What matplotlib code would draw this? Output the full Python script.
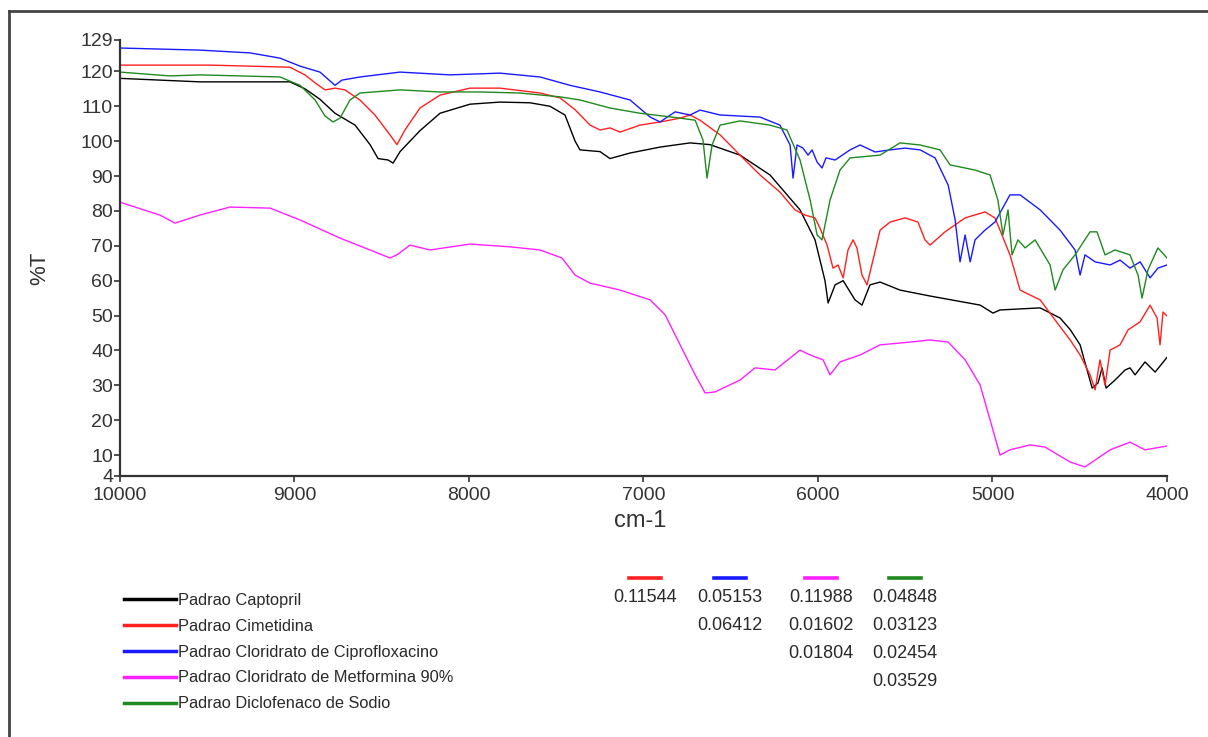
import matplotlib
matplotlib.use('Agg')
from matplotlib import pyplot as plt
from matplotlib.lines import Line2D

plt.rcParams['font.family'] = ['Liberation Sans', 'DejaVu Sans']

# NIR spectra: wavenumber (cm-1) and %T
captopril_wn = [10000, 9542, 9026, 8940, 8854, 8768, 8653, 8567, 8521, 8464, 8435, 8395, 8281,
                8166, 7994, 7822, 7650, 7536, 7450, 7392, 7364, 7249, 7192, 7077, 6905, 6733,
                6619, 6447, 6275, 6103, 6017, 5960, 5942, 5902, 5856, 5788, 5748, 5702, 5644,
                5530, 5358, 5071, 4997, 4957, 4727, 4613, 4555, 4498, 4458, 4429, 4395, 4372,
                4349, 4298, 4240, 4212, 4183, 4126, 4068, 4000]
captopril_t = [118, 117, 117, 115, 112, 108, 104.6, 99, 95, 94.6, 93.7, 97, 103,
               108, 110.6, 111.2, 111, 110, 107.5, 100, 97.5, 97, 95, 96.6, 98.3, 99.5,
               99, 96, 90.3, 80.3, 71.7, 60, 53.6, 58.8, 60, 54.5, 53, 58.8, 59.6,
               57.3, 55.6, 53, 50.7, 51.6, 52.2, 49.3, 46, 41.6, 34.4, 29.2, 30.7, 35,
               29.2, 31.5, 34.4, 35, 33, 36.7, 33.8, 38]

cimetidina_wn = [10000, 9484, 9026, 8940, 8882, 8825, 8768, 8711, 8625, 8539, 8453, 8413, 8367,
                 8281, 8166, 7994, 7822, 7593, 7478, 7392, 7306, 7249, 7192, 7134, 7020, 6905,
                 6790, 6733, 6676, 6561, 6447, 6332, 6218, 6132, 6074, 6017, 5988, 5948, 5914,
                 5885, 5856, 5828, 5799, 5777, 5748, 5719, 5685, 5644, 5587, 5501, 5427, 5387,
                 5358, 5272, 5157, 5043, 4986, 4957, 4900, 4842, 4785, 4727, 4641, 4555, 4498,
                 4441, 4412, 4384, 4355, 4326, 4269, 4223, 4154, 4097, 4057, 4040, 4023, 4000]
cimetidina_t = [121.8, 121.8, 121.2, 119, 116.7, 114.7, 115.2, 114.7, 111.8, 107.5, 101.8, 99, 103.2,
                109.5, 113.2, 115.2, 115.2, 113.8, 112.4, 109, 104.6, 103.2, 103.8, 102.6, 104.6, 105.5,
                106.6, 107.5, 106, 101.8, 96, 90.3, 85.4, 80.3, 78.8, 78, 75, 70.2, 63.6,
                64.5, 60.8, 68.8, 71.7, 69.4, 61.6, 58.8, 65.9, 74.5, 76.8, 78, 76.8, 71.7,
                70.2, 74, 78, 79.7, 78, 74.5, 67.4, 57.3, 55.9, 54.5, 48.7, 43, 38.7,
                33, 28.7, 37.3, 30, 40.1, 41.6, 45.9, 48.2, 53, 49.3, 41.6, 51, 49.9]

cipro_wn = [10000, 9542, 9255, 9083, 8968, 8854, 8768, 8728, 8625, 8395, 8109, 7822, 7593,
            7421, 7249, 7077, 6962, 6905, 6819, 6733, 6676, 6561, 6332, 6218, 6160, 6143,
            6120, 6086, 6057, 6034, 6005, 5977, 5954, 5902, 5816, 5759, 5673, 5587, 5501,
            5415, 5329, 5254, 5214, 5186, 5157, 5128, 5100, 5043, 4986, 4900, 4842, 4727,
            4613, 4527, 4498, 4470, 4412, 4326, 4269, 4212, 4154, 4097, 4052, 4000]
cipro_t = [126.7, 126.1, 125.3, 123.8, 121.5, 119.8, 116, 117.5, 118.4, 119.8, 119, 119.5, 118.4,
           116, 114.1, 111.8, 106.9, 105.5, 108.4, 107.5, 108.9, 107.5, 106.9, 104.6, 98.9, 89.4,
           98.9, 98, 96, 97.5, 94, 92.3, 95.2, 94.6, 97.5, 98.9, 96.9, 97.5, 98,
           97.5, 95.2, 87.4, 77.4, 65.4, 73.1, 65.4, 71.7, 74.5, 76.8, 84.6, 84.6, 80.3,
           74.5, 68.8, 61.6, 67.4, 65.4, 64.5, 65.9, 63.6, 65.4, 60.8, 63.6, 64.5]

metformina_wn = [10000, 9771, 9685, 9542, 9370, 9140, 8968, 8739, 8567, 8453, 8413, 8338, 8223,
                 7994, 7765, 7593, 7467, 7392, 7306, 7134, 6962, 6876, 6790, 6704, 6647, 6590,
                 6447, 6361, 6246, 6103, 6045, 5971, 5931, 5874, 5759, 5644, 5472, 5358, 5254,
                 5157, 5071, 5014, 4957, 4900, 4785, 4699, 4555, 4470, 4326, 4212, 4126, 4000]
metformina_t = [82.5, 78.8, 76.5, 78.8, 81.1, 80.8, 77.4, 72.2, 68.8, 66.5, 67.4, 70.2, 68.8,
                70.5, 69.7, 68.8, 66.5, 61.6, 59.3, 57.3, 54.5, 50.2, 41.6, 33, 27.8, 28.1,
                31.5, 35, 34.4, 40.1, 38.7, 37.3, 33, 36.7, 38.7, 41.6, 42.4, 43, 42.4,
                37.3, 30.1, 20.1, 10, 11.5, 12.9, 12.3, 8, 6.6, 11.5, 13.7, 11.5, 12.6]

diclofenaco_wn = [10000, 9713, 9542, 9083, 8968, 8882, 8825, 8779, 8739, 8682, 8625, 8395, 8166,
                  7937, 7708, 7478, 7364, 7192, 7020, 6790, 6704, 6659, 6636, 6607, 6561, 6447,
                  6275, 6178, 6103, 6045, 6005, 5977, 5931, 5874, 5816, 5644, 5530, 5415, 5301,
                  5243, 5100, 5014, 4969, 4940, 4911, 4888, 4854, 4813, 4756, 4670, 4641, 4596,
                  4527, 4441, 4401, 4355, 4298, 4212, 4166, 4143, 4109, 4052, 4000]
diclofenaco_t = [119.8, 118.7, 119, 118.4, 116, 111.8, 107.2, 105.5, 106.6, 111.8, 113.8, 114.7, 114.1,
                 114.1, 113.8, 112.7, 111.8, 109.5, 108, 106.6, 106, 100.3, 89.4, 98.9, 104.6, 105.8,
                 104.6, 103.2, 94.6, 83.1, 73.1, 71.7, 83.1, 91.7, 95.2, 96, 99.5, 98.9, 97.5,
                 93.2, 91.7, 90.3, 83.1, 73.1, 80.3, 67.4, 71.7, 69.4, 71.7, 64.5, 57.3, 63.1,
                 67.4, 74, 74, 67.4, 68.8, 67.4, 61.6, 55, 63.1, 69.4, 66.5]

series_names = ['Padrao Captopril', 'Padrao Cimetidina', 'Padrao Cloridrato de Ciprofloxacino',
                'Padrao Cloridrato de Metformina 90%', 'Padrao Diclofenaco de Sodio']
series_colors = ['#000000', '#ff2020', '#1a1aff', '#ff20ff', '#1f8a1f']

y_ticks = [4, 10, 20, 30, 40, 50, 60, 70, 80, 90, 100, 110, 120, 129]
x_ticks = [10000, 9000, 8000, 7000, 6000, 5000, 4000]

# distance table under the plot (column = spectrum colour, row order as shown)
dist_col_colors = ['#ff2020', '#1a1aff', '#ff20ff', '#1f8a1f']
dist_row1 = ['0.11544', '0.05153', '0.11988', '0.04848']
dist_row2 = ['', '0.06412', '0.01602', '0.03123']
dist_row3 = ['', '', '0.01804', '0.02454']
dist_row4 = ['', '', '', '0.03529']

W, H = 1208, 737
fig = plt.figure(figsize=(W / 100, H / 100), dpi=100)
ax = fig.add_axes([120 / W, 1 - 476 / H, 1047 / W, 436 / H])

spectra = [(captopril_wn, captopril_t), (cimetidina_wn, cimetidina_t), (cipro_wn, cipro_t),
           (metformina_wn, metformina_t), (diclofenaco_wn, diclofenaco_t)]
lines = []
for (wn, t), name, col in zip(spectra, series_names, series_colors):
    ln, = ax.plot(wn, t, color=col, lw=1.0, label=name)
    lines.append(ln)

ax.set_xlim(10000, 4000)
ax.set_ylim(4, 129)
ax.set_xticks(x_ticks)
ax.set_yticks(y_ticks)
ax.set_xticklabels([str(v) for v in x_ticks])
for s in ['top', 'right']:
    ax.spines[s].set_visible(False)
for s in ['left', 'bottom']:
    ax.spines[s].set_color('#333333')
    ax.spines[s].set_linewidth(1.6)
ax.tick_params(axis='both', colors='#333333', labelsize=14, width=1.2, length=4, pad=1)
ax.tick_params(axis='x', pad=4)

fig.text(40 / W, 1 - 268 / H, '%T', rotation=90, ha='center', va='center', fontsize=16, color='#333333')
fig.text(640 / W, 1 - 521 / H, 'cm-1', ha='center', va='center', fontsize=17, color='#333333')

# outer frame (top and left only visible)
fig.add_artist(Line2D([9 / W, 1], [1 - 11 / H, 1 - 11 / H], color='#444444', lw=2.0))
fig.add_artist(Line2D([9 / W, 9 / W], [0, 1 - 11 / H], color='#444444', lw=2.0))

leg = fig.legend(handles=lines, loc='upper left', bbox_to_anchor=(124 / W, 1 - 593 / H),
                 frameon=False, fontsize=11.8, handlelength=3.2, handletextpad=0.1,
                 labelspacing=0.66, borderpad=0, borderaxespad=0)
for h in leg.legend_handles:
    h.set_linewidth(2.5)
for txt in leg.get_texts():
    txt.set_color('#2a2a2a')

col_x = [645, 730, 821, 905]
row_y = [598, 625, 653, 682]
for cx, col in zip(col_x, dist_col_colors):
    fig.add_artist(Line2D([(cx - 16) / W, (cx + 16) / W], [1 - 578 / H, 1 - 578 / H], color=col, lw=2.6))
for ry, row in zip(row_y, [dist_row1, dist_row2, dist_row3, dist_row4]):
    for cx, val in zip(col_x, row):
        if val:
            fig.text(cx / W, 1 - ry / H, val, ha='center', va='center', fontsize=13, color='#2a2a2a')

fig.savefig('out.png', dpi=100)
